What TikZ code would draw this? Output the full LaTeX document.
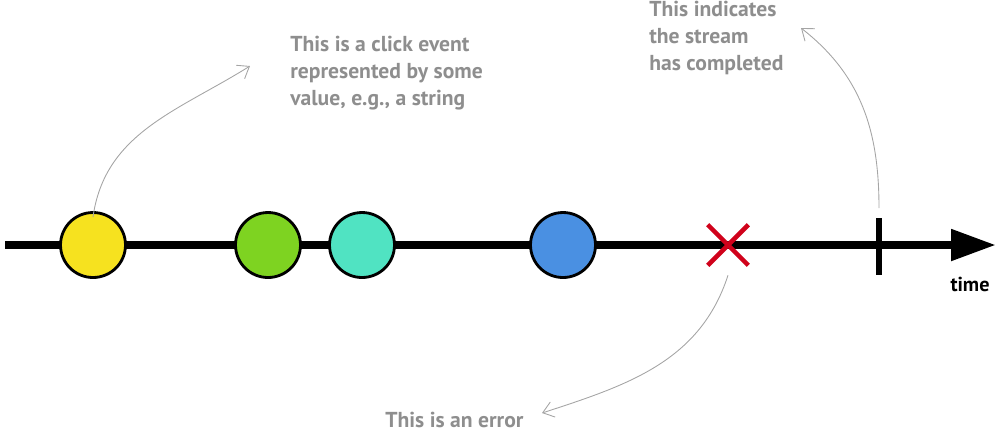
\documentclass[tikz,border=0pt]{standalone}
\usepackage{fontspec}
\setmainfont{PT Sans}
\usetikzlibrary{positioning,arrows.meta,shapes.misc}

\definecolor{notegray}{HTML}{8E8E8E}
\definecolor{evyellow}{HTML}{F6E21F}
\definecolor{evgreen}{HTML}{7ED321}
\definecolor{evteal}{HTML}{50E3C2}
\definecolor{evblue}{HTML}{4A90E2}
\definecolor{everr}{HTML}{D0021B}

\begin{document}
\begin{tikzpicture}[x=0.02cm, y=-0.02cm,
    event/.style={circle, draw=black, line width=1.6pt, minimum size=1.3cm, inner sep=0},
    note/.style={text=notegray, font=\bfseries\fontsize{12.3}{15.3}\selectfont, align=left, inner sep=0},
    pointer/.style={draw=notegray!80, line width=0.5pt, -{Straight Barb[length=6pt,width=9pt]}}]
    \useasboundingbox (0,0) rectangle (1000,441);

    % the stream
    \coordinate (start) at (5,245);
    \coordinate (end) at (996,245);
    \draw[line width=4.6pt, -{Triangle[length=0.9cm,width=0.6cm]}] (start) -- (end);

    \node[event, fill=evyellow] (click1) at (93,245) {};
    \node[event, fill=evgreen] (click2) at (268,245) {};
    \node[event, fill=evteal] (click3) at (362,245) {};
    \node[event, fill=evblue] (click4) at (563,245) {};
    \node[cross out, draw=everr, line width=2.6pt, minimum size=0.72cm] (err) at (728,245) {};
    \node[fill=black, minimum width=3.8pt, minimum height=1.14cm, inner sep=0] (done) at (879,246) {};
    \node[font=\bfseries\fontsize{11.5}{12}\selectfont, inner sep=0] (time) at (970,284) {time};

    % notes
    \node[note, anchor=north west] (clicknote) at (290,36) {This is a click event\\represented by some\\value, e.g., a string};
    \node[note, anchor=north west] (donenote) at (649,1) {This indicates\\the stream\\has completed};
    \node[note, anchor=base west] (errnote) at (385,427) {This is an error};

    \coordinate (clicktip) at (250,66);
    \coordinate (donetip) at (801,28);
    \coordinate (errtip) at (542,413);

    \draw[pointer] ([yshift=-0.12cm]click1.north) to[out=82, in=212] (clicktip);
    \draw[pointer] ([yshift=0.18cm]done.north) to[out=90, in=-38] (donetip);
    \draw[pointer] ([yshift=-0.2cm]err.south) to[out=-108, in=18] (errtip);
\end{tikzpicture}
\end{document}
